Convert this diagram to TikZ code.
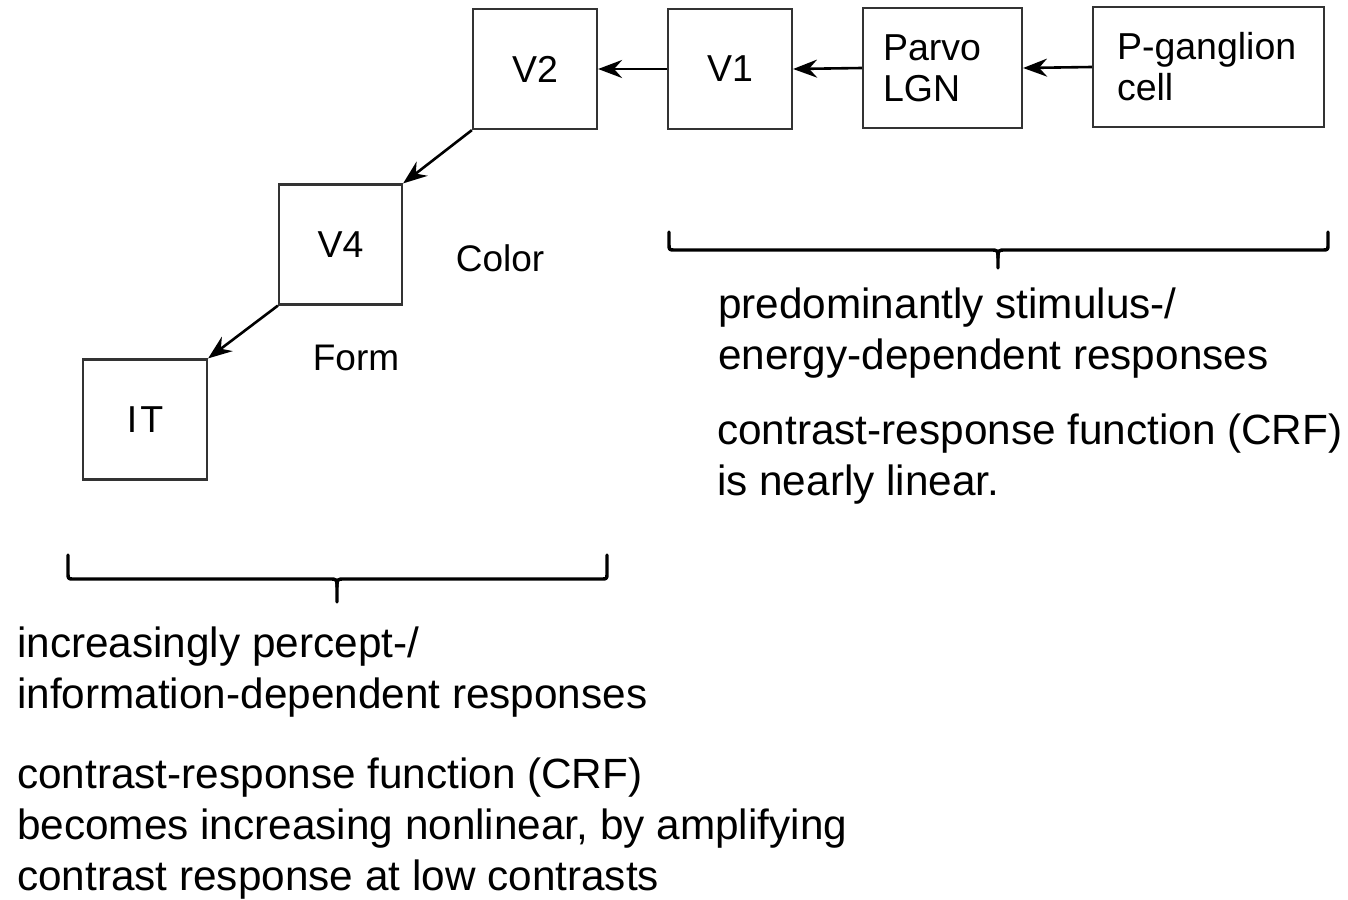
\documentclass[tikz,border=0pt]{standalone}
\usepackage{fontspec}
\setmainfont{Liberation Sans}
\usetikzlibrary{arrows.meta}
\begin{document}
\begin{tikzpicture}[x=1pt,y=-1pt,
  box/.style={draw=black!80, line width=2.2pt, minimum width=#1, minimum height=120pt,
    inner sep=0pt, font=\fontsize{37.5pt}{42pt}\selectfont},
  multibox/.style={draw=black!80, line width=2.2pt, minimum height=120pt,
    inner ysep=0pt, align=left, font=\fontsize{37.5pt}{41pt}\selectfont},
  lbl/.style={inner sep=0pt, font=\fontsize{37pt}{42pt}\selectfont},
  txt/.style={inner sep=0pt, align=left, anchor=north west, font=\fontsize{42.3pt}{51pt}\selectfont},
  conn/.style={line width=2.6pt, -{Stealth[length=24pt,width=18pt,inset=8pt]}},
  bracepath/.style={line width=3.4pt, line cap=round, line join=round}
]
\useasboundingbox (0,0) rectangle (1348,899);
\fill[white] (0,0) rectangle (1348,899);

% boxes
\node[box=124pt] (V2) at (535,69) {V2};
\node[box=124pt] (V1) at (730,69) {V1};
\node[multibox, inner xsep=20pt, text width=119pt] (LGN) at (942.5,68) {Parvo\\LGN};
\node[multibox, inner xsep=24pt, text width=183pt] (PG) at (1208.5,67) {P-ganglion\\cell};
\node[box=123pt] (V4) at (340.5,244.5) {V4};
\node[box=124pt] (IT) at (145,419.5) {I\kern3pt T};

% labels
\node[lbl] (color) at (500,258) {Color};
\node[lbl] (form) at (356,358) {Form};

% connectors
\draw[conn] (V1.west) -- (V2.east);
\draw[conn] (LGN.west) -- (V1.east);
\draw[conn] (PG.west) -- (LGN.east);
\draw[conn] (V2.south west) -- (V4.north east);
\draw[conn] (V4.south west) -- (IT.north east);

% right brace
\draw[bracepath] (669,232) -- (669,244) .. controls (669,250) .. (675,250) -- (990,250)
  .. controls (998,250) .. (998,258) -- (998,268);
\draw[bracepath] (1328,232) -- (1328,244) .. controls (1328,250) .. (1322,250) -- (1006,250)
  .. controls (998,250) .. (998,258);

% left brace
\draw[bracepath] (68,555) -- (68,573) .. controls (68,579) .. (74,579) -- (329,579)
  .. controls (337,579) .. (337,587) -- (337,602);
\draw[bracepath] (607,555) -- (607,573) .. controls (607,579) .. (601,579) -- (345,579)
  .. controls (337,579) .. (337,587);

% texts
\node[txt] (rt1) at (718,286) {\rule{0pt}{32pt}predominantly stimulus-/\\energy-dependent responses};
\node[txt] (rt2) at (717,412) {\rule{0pt}{32pt}contrast-response function (CRF)\\is nearly linear.};
\node[txt] (lt1) at (17,625) {\rule{0pt}{32pt}increasingly percept-/\\information-dependent responses};
\node[txt] (lt2) at (17,756) {\rule{0pt}{32pt}contrast-response function (CRF)\\becomes increasing nonlinear, by amplifying\\contrast response at low contrasts};
\end{tikzpicture}
\end{document}
